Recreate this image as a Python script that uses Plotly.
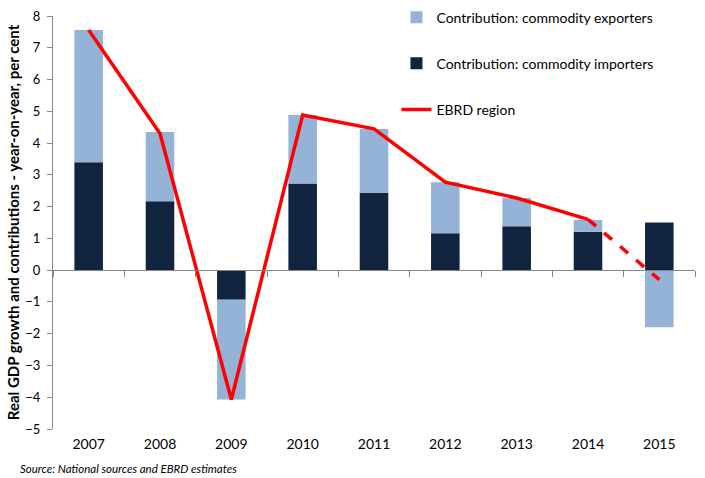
import plotly.graph_objects as go

years = ["2007", "2008", "2009", "2010", "2011", "2012", "2013", "2014", "2015"]
importers = [3.40, 2.17, -0.93, 2.73, 2.43, 1.16, 1.38, 1.21, 1.50]
exporters = [4.16, 2.18, -3.14, 2.15, 2.01, 1.61, 0.89, 0.37, -1.80]
ebrd = [7.56, 4.30, -4.07, 4.88, 4.45, 2.77, 2.27, 1.60, -0.30]
y_ticks = [-5, -4, -3, -2, -1, 0, 1, 2, 3, 4, 5, 6, 7, 8]

FONT = "Lato"
GRAY = "#868686"
ymin, ymax = -5, 8

fig = go.Figure()
fig.add_trace(go.Bar(x=years, y=importers, name="Contribution: commodity importers",
                     marker=dict(color="#10243F", line=dict(width=0)), width=0.4,
                     legendrank=2, legendgroup="imp"))
fig.add_trace(go.Bar(x=years, y=exporters, name="Contribution: commodity exporters",
                     marker=dict(color="#95B3D7", line=dict(width=0)), width=0.4,
                     legendrank=1, legendgroup="exp"))
fig.add_trace(go.Scatter(x=years[:8], y=ebrd[:8], mode="lines", name="EBRD region",
                         line=dict(color="#FF0000", width=3.5), legendrank=3,
                         legendgroup="ebrd"))
fig.add_trace(go.Scatter(x=years[7:], y=ebrd[7:], mode="lines", showlegend=False,
                         line=dict(color="#FF0000", width=3.5, dash="dash")))
# helper invisible trace for the zero-positioned category axis
fig.add_trace(go.Scatter(x=years, y=[0] * len(years), xaxis="x2", mode="markers",
                         marker=dict(opacity=0), showlegend=False, hoverinfo="skip"))

fig.update_layout(
    width=705, height=478,
    paper_bgcolor="white", plot_bgcolor="white",
    barmode="relative",
    margin=dict(l=53, r=10, t=16, b=49, autoexpand=False),
    font=dict(family=FONT, size=13, color="#000000"),
    showlegend=True,
    legend=dict(x=0.535, y=1.035, xanchor="left", yanchor="top",
                font=dict(family=FONT, size=14, color="#000000"),
                tracegroupgap=25, bgcolor="rgba(0,0,0,0)", itemwidth=30),
    xaxis=dict(type="category", categoryorder="array", categoryarray=years,
               range=[-0.5, 8.5], showline=False, ticks="", showgrid=False,
               zeroline=False, tickfont=dict(size=14), ticklabelstandoff=5),
    xaxis2=dict(type="category", categoryorder="array", categoryarray=years,
                overlaying="x", anchor="free", position=(0 - ymin) / (ymax - ymin),
                range=[-0.5, 8.5], showline=True, linecolor=GRAY, linewidth=1,
                ticks="outside", tickson="boundaries", ticklen=6, tickcolor=GRAY,
                showticklabels=False, showgrid=False, zeroline=False),
    yaxis=dict(range=[ymin, ymax], tickvals=y_ticks, showgrid=False, zeroline=False,
               showline=True, linecolor=GRAY, linewidth=1, ticks="outside",
               ticklen=5, tickcolor=GRAY, tickfont=dict(size=13), ticklabelstandoff=4,
               title=dict(text="<b>Real GDP growth and contributions - year-on-year, per cent</b>",
                          font=dict(size=15), standoff=2)),
)
fig.add_annotation(text="<i>Source: National sources and EBRD estimates</i>",
                   xref="paper", yref="paper", x=-0.055, y=-0.075, xanchor="left",
                   yanchor="top", showarrow=False, font=dict(size=11.5))

fig.write_html("out.html", config={"displayModeBar": False},
               post_script="document.body.style.margin='0';document.body.style.overflow='hidden';")
